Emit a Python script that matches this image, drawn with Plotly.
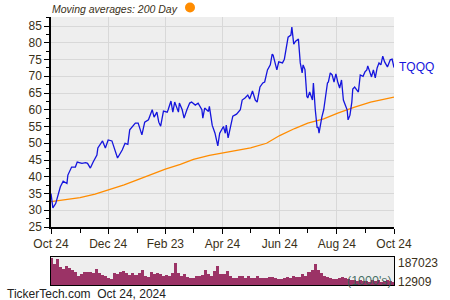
import plotly.graph_objects as go
import pandas as pd

# ---- data ----
price_dates = [
"2023-10-24","2023-10-26","2023-10-29","2023-10-31","2023-11-03","2023-11-06","2023-11-10","2023-11-11",
"2023-11-15","2023-11-19","2023-11-21","2023-11-26","2023-11-30","2023-12-02","2023-12-05","2023-12-08",
"2023-12-12","2023-12-13","2023-12-17","2023-12-18","2023-12-21","2023-12-24","2023-12-28","2023-12-31",
"2024-01-03","2024-01-08","2024-01-11","2024-01-14","2024-01-16","2024-01-22","2024-01-25","2024-01-29",
"2024-02-01","2024-02-05","2024-02-09","2024-02-11","2024-02-14","2024-02-16","2024-02-18","2024-02-21",
"2024-02-25","2024-02-26","2024-02-29","2024-03-02","2024-03-04","2024-03-08","2024-03-09","2024-03-12",
"2024-03-14","2024-03-17","2024-03-20","2024-03-22","2024-03-26","2024-03-29","2024-04-02","2024-04-03",
"2024-04-05","2024-04-09","2024-04-10","2024-04-13","2024-04-16","2024-04-19","2024-04-21","2024-04-25",
"2024-04-27","2024-04-28","2024-04-30","2024-05-05","2024-05-09","2024-05-13","2024-05-15","2024-05-18",
"2024-05-21","2024-05-23","2024-05-26","2024-05-29","2024-05-31","2024-06-03","2024-06-06","2024-06-08",
"2024-06-11","2024-06-14","2024-06-16","2024-06-17","2024-06-19","2024-06-21","2024-06-23","2024-06-27",
"2024-06-29","2024-07-01","2024-07-03","2024-07-06","2024-07-07","2024-07-09","2024-07-11","2024-07-14",
"2024-07-16","2024-07-18","2024-07-19","2024-07-21","2024-07-23","2024-07-24","2024-07-26","2024-07-29",
"2024-07-30","2024-08-01","2024-08-03","2024-08-04","2024-08-05","2024-08-08","2024-08-10","2024-08-14",
"2024-08-15","2024-08-17","2024-08-19","2024-08-21","2024-08-23","2024-08-25","2024-08-27","2024-08-29",
"2024-08-31","2024-09-02","2024-09-04","2024-09-05","2024-09-07","2024-09-09","2024-09-10","2024-09-12",
"2024-09-16","2024-09-18","2024-09-21","2024-09-23","2024-09-25","2024-09-26","2024-09-30","2024-10-02",
"2024-10-04","2024-10-06","2024-10-08","2024-10-10","2024-10-12","2024-10-14","2024-10-17","2024-10-20",
"2024-10-22","2024-10-24",
]
price_values = [
35.0,30.7,32.0,34.0,37.0,38.7,38.0,40.5,
42.9,42.9,44.4,44.0,44.2,44.0,42.6,44.4,
46.5,48.6,50.0,50.7,48.6,51.0,50.7,48.0,
45.6,48.0,50.0,49.7,54.0,56.0,56.0,52.5,
56.3,57.0,60.0,57.8,59.3,56.3,55.1,59.6,
59.3,60.0,62.6,59.3,62.3,59.3,62.0,60.0,
57.5,60.0,62.0,62.3,61.4,62.0,60.0,57.5,
60.5,59.5,61.0,55.4,53.0,49.2,53.0,55.0,
53.0,55.4,51.6,58.1,58.7,60.0,62.9,63.5,
64.4,63.2,65.6,62.9,62.3,66.8,68.0,68.3,
71.9,73.4,76.6,76.3,74.0,71.9,74.3,74.0,
75.1,78.4,81.7,82.3,84.7,79.6,80.5,81.1,
74.0,71.0,73.4,72.0,64.0,63.5,65.3,62.9,
68.0,60.0,54.6,54.9,53.0,57.8,60.0,68.0,
68.3,71.0,70.4,68.3,70.7,68.3,66.5,68.9,
62.9,61.4,60.0,57.0,58.4,62.3,66.2,66.8,
65.3,70.4,70.0,71.3,71.9,73.1,69.8,71.9,
69.5,72.5,74.0,73.4,76.0,74.3,72.8,74.9,
75.1,72.6,
]

ma_dates = ["2023-10-24","2023-11-10","2023-11-24","2023-12-10","2023-12-24","2024-01-10","2024-01-24",
            "2024-02-10","2024-02-23","2024-03-10","2024-03-24","2024-04-10","2024-04-24","2024-05-10",
            "2024-05-24","2024-06-10","2024-06-24","2024-07-10","2024-07-24","2024-08-10","2024-08-25",
            "2024-09-12","2024-09-29","2024-10-24"]
ma_values = [32.6,33.2,33.8,34.8,36.0,37.6,39.1,41.0,42.3,43.7,45.2,46.4,47.1,47.8,48.6,50.0,52.3,
             54.4,56.0,57.3,59.0,60.8,62.3,63.8]

# volume (in 1000's), read left to right
volume_values = [
180000,140000,172000,121000,110000,125000,118000,100000,88000,60000,75000,90000,88000,86000,80000,
110000,84000,68000,62000,51000,42000,84000,77000,88000,95000,80000,68000,84000,68000,85000,
100000,65000,55000,90000,77000,84000,73000,64000,70000,64000,84000,150000,80000,62000,73000,
55000,46000,52000,62000,60000,70000,100000,73000,62000,95000,130000,75000,
73000,95000,60000,46000,50000,62000,60000,46000,62000,46000,51000,62000,48000,46000,51000,
53000,55000,46000,43000,40000,46000,55000,46000,62000,55000,55000,75000,62000,90000,
105000,140000,105000,84000,65000,55000,48000,44000,40000,51000,55000,46000,40000,33000,38000,
30000,33000,29000,27000,24000,33000,29000,33000,25000,29000,33000,28000,20000,
]
vol_max_label = "187023"
vol_min_label = "12909"

x_tick_vals = ["2023-10-24","2023-12-24","2024-02-23","2024-04-24","2024-06-24","2024-08-24","2024-10-24"]
x_tick_text = ["Oct 24","Dec 24","Feb 23","Apr 24","Jun 24","Aug 24","Oct 24"]
x_minor_vals = ["2023-11-24","2024-01-24","2024-03-24","2024-05-24","2024-07-24","2024-09-24"]

# ---- figure ----
W, H = 450, 300
FONT = "Liberation Sans, Arial, sans-serif"
TXT = "#3a3018"

vol_dates = pd.date_range("2023-10-24", "2024-10-24", periods=len(volume_values))
bar_w = (vol_dates[1] - vol_dates[0]).total_seconds() * 1000

fig = go.Figure()
fig.add_trace(go.Scatter(x=ma_dates, y=ma_values, mode="lines",
                         line=dict(color="#FF8C00", width=1.3), xaxis="x", yaxis="y"))
fig.add_trace(go.Scatter(x=price_dates, y=price_values, mode="lines",
                         line=dict(color="#1515DD", width=1.3), xaxis="x", yaxis="y"))
fig.add_trace(go.Bar(x=list(vol_dates.strftime("%Y-%m-%d %H:%M")), y=volume_values, width=bar_w,
                     marker=dict(color="#9B3366", line=dict(width=0)), xaxis="x2", yaxis="y2"))

xd = [51 / W, 394 / W]
xr = ["2023-10-24", "2024-10-24"]

fig.update_layout(
    width=W, height=H, margin=dict(l=0, r=0, t=0, b=0, autoexpand=False),
    paper_bgcolor="white", plot_bgcolor="#EEEEEE", showlegend=False,
    font=dict(family=FONT, size=12, color=TXT),
    bargap=0,
    xaxis=dict(domain=xd, range=xr, type="date", anchor="y", automargin=False,
               tickmode="array", tickvals=x_tick_vals, ticktext=x_tick_text,
               ticks="outside", ticklen=5, tickcolor="black",
               showline=True, linecolor="black", linewidth=1.5,
               showgrid=True, gridcolor="#D8D8D8", gridwidth=1,
               minor=dict(tickmode="array", tickvals=x_minor_vals, ticks="outside",
                          ticklen=4, tickcolor="black", showgrid=False),
               tickfont=dict(size=12, color=TXT), zeroline=False),
    yaxis=dict(domain=[1 - 227 / H, 1 - 17 / H], range=[25, 87.7], anchor="x", automargin=False,
               tickmode="linear", tick0=25, dtick=5,
               ticks="outside", ticklen=5, tickcolor="black",
               showline=True, linecolor="black", linewidth=1.5,
               showgrid=True, gridcolor="#D8D8D8", gridwidth=1,
               minor=dict(dtick=2.5, tick0=25, ticks="outside", ticklen=3, tickcolor="black",
                          showgrid=False),
               tickfont=dict(size=12, color=TXT), zeroline=False),
    xaxis2=dict(domain=xd, range=xr, type="date", anchor="y2", automargin=False,
                showticklabels=False, ticks="", showgrid=False,
                showline=True, linecolor="black", linewidth=1, mirror=True, zeroline=False),
    yaxis2=dict(domain=[1 - 285 / H, 1 - 256.5 / H], range=[0, 187023], anchor="x2", automargin=False,
                showticklabels=False, ticks="", showgrid=False,
                showline=True, linecolor="black", linewidth=1, mirror=True, zeroline=False),
)

anns = [
    dict(text="<i>Moving averages: 200 Day</i>", x=50 / W, y=1 - 9.5 / H, xanchor="left", yanchor="middle",
         font=dict(size=10.5, color=TXT)),
    dict(text="TQQQ", x=397 / W, y=1 - 67 / H, xanchor="left", yanchor="middle",
         font=dict(size=12, color="#1515DD")),
    dict(text=vol_max_label, x=396 / W, y=1 - 263 / H, xanchor="left", yanchor="middle",
         font=dict(size=12, color=TXT)),
    dict(text=vol_min_label, x=396 / W, y=1 - 281.5 / H, xanchor="left", yanchor="middle",
         font=dict(size=12, color=TXT)),
    dict(text="(1000's)", x=394 / W, y=1 - 280.5 / H, xanchor="right", yanchor="middle",
         font=dict(size=12.5, color="rgba(50,95,85,0.9)")),
    dict(text="TickerTech.com  Oct 24, 2024", x=5 / W, y=1 - 294 / H, xanchor="left", yanchor="middle",
         font=dict(size=12, color="#222222")),
]
for a in anns:
    a.update(xref="paper", yref="paper", showarrow=False)
fig.update_layout(annotations=anns)

fig.add_shape(type="circle", xref="paper", yref="paper",
              x0=185 / W, x1=195 / W, y0=1 - 12.5 / H, y1=1 - 2.5 / H,
              fillcolor="#FF8C00", line=dict(width=0))

fig.write_html("out.html")
